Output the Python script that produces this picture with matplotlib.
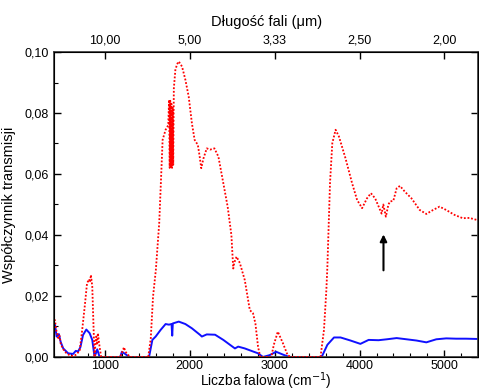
import matplotlib
matplotlib.use('Agg')
import matplotlib.pyplot as plt
from matplotlib.ticker import FuncFormatter, MultipleLocator

plt.rcParams['font.family'] = ['Liberation Sans', 'DejaVu Sans']

# red (dotted) spectrum
wn_red = [400, 412, 425, 440, 450, 465, 478, 500, 528, 560, 587, 625, 665, 703, 730,
          762, 789, 812, 825, 835, 851, 867, 878, 890, 898, 910, 917, 937, 956, 980,
          1180, 1209, 1225, 1240, 1255, 1295, 1510, 1540, 1567, 1600, 1640, 1680, 1715,
          1746, 1756, 1763, 1770, 1777, 1784, 1791, 1798, 1805, 1812, 1830, 1850, 1870, 1909,
          1948, 1987, 2025, 2057, 2095, 2115, 2135, 2160, 2200, 2240, 2290, 2337, 2395,
          2446, 2490, 2512, 2525, 2551, 2590, 2648, 2707, 2745, 2773, 2804, 2830, 2960,
          2990, 3037, 3096, 3154, 3200, 3540, 3581, 3609, 3621, 3652, 3679, 3718, 3757,
          3835, 3912, 3971, 4030, 4087, 4134, 4184, 4230, 4260, 4280, 4310, 4340, 4360,
          4398, 4437, 4476, 4534, 4612, 4709, 4787, 4866, 4943, 5021, 5118, 5216, 5294, 5400]
t_red = [0.012, 0.0121, 0.009, 0.0075, 0.0062, 0.007, 0.0045, 0.003, 0.0017, 0.001, 0.0005,
         0.0003, 0.0008, 0.0022, 0.0083, 0.0165, 0.0241, 0.0255, 0.0245, 0.0269, 0.0231,
         0.0089, 0.0, 0.005, 0.0067, 0.004, 0.0078, 0.0034, 0.0, 0.0,
         0.0, 0.002, 0.0032, 0.0018, 0.0013, 0.0, 0.0, 0.006, 0.0198, 0.0285, 0.044, 0.0712,
         0.0745, 0.076, 0.0843, 0.062, 0.084, 0.062, 0.083, 0.062, 0.082, 0.063, 0.088,
         0.0941, 0.096, 0.0969, 0.0952, 0.0909, 0.0854, 0.0766, 0.0712, 0.0695, 0.066,
         0.0619, 0.065,
         0.0684, 0.068, 0.0684, 0.0657, 0.057, 0.0493, 0.04, 0.029, 0.031, 0.0329, 0.0308,
         0.0252, 0.0154, 0.0143, 0.011, 0.0034, 0.0, 0.0, 0.004, 0.0083, 0.0046, 0.0005, 0.0,
         0.0, 0.0089, 0.022, 0.0296, 0.057, 0.0701, 0.0745, 0.0723, 0.0651, 0.057, 0.0515,
         0.0488, 0.052, 0.0537, 0.052, 0.049, 0.047, 0.050, 0.046, 0.050, 0.051,
         0.0512, 0.0553, 0.0561, 0.0542, 0.052, 0.0482, 0.0469, 0.0482, 0.0493, 0.0482,
         0.0466, 0.0455, 0.0456, 0.0448]

# blue (solid) spectrum
wn_blue = [400, 412, 431, 458, 478, 509, 567, 625, 657, 684, 711, 742, 781, 820, 851, 878,
           910, 937, 1180, 1200, 1228, 1287, 1520, 1559, 1598, 1657, 1715, 1754, 1785, 1793,
           1800, 1870, 1948, 2025, 2123, 2142, 2200, 2298, 2395, 2473, 2532, 2570, 2648,
           2726, 2804, 2862, 2940, 3018, 3096, 3173, 3540, 3562, 3621, 3699, 3776, 3893,
           4010, 4107, 4224, 4321, 4437, 4554, 4670, 4787, 4904, 5021, 5138, 5254, 5400]
t_blue = [0.011, 0.0105, 0.0067, 0.0075, 0.005, 0.0028, 0.0012, 0.001, 0.002, 0.0018, 0.0032,
          0.0072, 0.009, 0.0078, 0.0056, 0.0, 0.0025, 0.0, 0.0, 0.0017, 0.0012, 0.0, 0.0,
          0.0056, 0.0067, 0.0089, 0.0108, 0.0106, 0.0108, 0.007, 0.011, 0.0116, 0.0108,
          0.0094, 0.0072, 0.0067, 0.0074, 0.0073, 0.0056, 0.004, 0.0028, 0.0034, 0.0028,
          0.002, 0.0012, 0.0, 0.0006, 0.0017, 0.0008, 0.0, 0.0, 0.0005, 0.004, 0.0064,
          0.0064, 0.0054, 0.0043, 0.0056, 0.0055, 0.0058, 0.0062, 0.0058, 0.0054, 0.0048,
          0.0058, 0.0061, 0.006, 0.006, 0.0059]

top_wn = [1000, 2000, 3000, 4000, 5000]
top_labels = [f"{1e4 / w:.2f}".replace('.', ',') for w in top_wn]

arrow_x = 4282
arrow_y = (0.0275, 0.0411)

comma = FuncFormatter(lambda v, p: f"{v:.2f}".replace('.', ','))

fig = plt.figure(figsize=(4.79, 3.91), dpi=100)
ax = fig.add_axes([0.1127, 0.087, 0.886, 0.78])
ax.plot(wn_blue, t_blue, color='#1010ff', lw=1.4, zorder=2)
ax.plot(wn_red, t_red, color='#ff0000', lw=1.3, ls=(0, (1, 1)), zorder=3)
ax.annotate('', xy=(arrow_x, arrow_y[1]), xytext=(arrow_x, arrow_y[0]),
            arrowprops=dict(arrowstyle='-|>', color='black', lw=1.5, mutation_scale=10))

ax.set_xlim(400, 5400)
ax.set_ylim(0, 0.1)
ax.xaxis.set_major_locator(MultipleLocator(1000))
ax.xaxis.set_minor_locator(MultipleLocator(200))
ax.yaxis.set_major_locator(MultipleLocator(0.02))
ax.yaxis.set_minor_locator(MultipleLocator(0.01))
ax.yaxis.set_major_formatter(comma)
ax.tick_params(which='major', direction='in', length=5, width=1, labelsize=9,
               right=True, top=False)
ax.tick_params(which='minor', direction='in', length=3, width=0.8, right=False)
ax.tick_params(axis='x', pad=2)
for s in ax.spines.values():
    s.set_color('#444444')
    s.set_linewidth(1.3)
ax.set_xlabel('Liczba falowa (cm$^{-1}$)', fontsize=10, labelpad=0)
ax.xaxis.set_label_coords(0.5, -0.045)
ax.set_ylabel('Współczynnik transmisji', fontsize=10.5, labelpad=6)

ax2 = ax.twiny()
ax2.set_xlim(ax.get_xlim())
ax2.set_xticks(top_wn)
ax2.set_xticklabels(top_labels)
ax2.tick_params(direction='in', length=5, width=1, labelsize=9, pad=4)
ax2.set_xlabel('Długość fali (μm)', fontsize=10.5, labelpad=6)

plt.savefig('out.png', dpi=100)
